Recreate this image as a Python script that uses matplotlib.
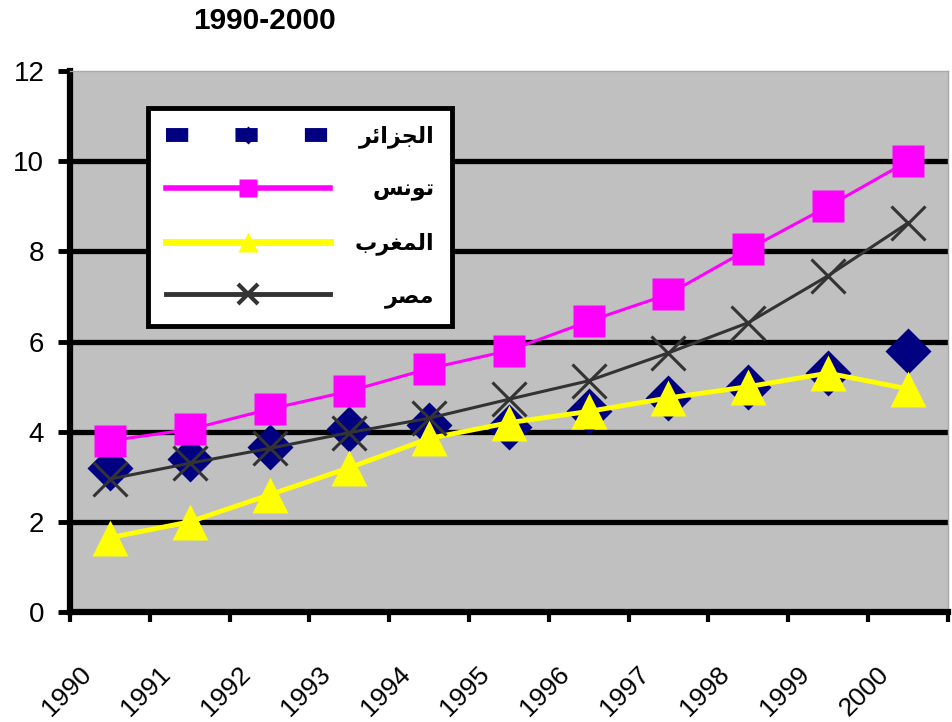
import numpy as np
import matplotlib.pyplot as plt
from matplotlib.lines import Line2D

years = ["1990", "1991", "1992", "1993", "1994", "1995", "1996", "1997", "1998", "1999", "2000"]
algeria = [3.2, 3.4, 3.65, 4.05, 4.15, 4.1, 4.45, 4.75, 5.0, 5.3, 5.8]
tunisia = [3.8, 4.05, 4.5, 4.9, 5.4, 5.8, 6.45, 7.05, 8.05, 9.0, 10.0]
morocco = [1.65, 2.0, 2.6, 3.2, 3.85, 4.2, 4.45, 4.75, 5.0, 5.3, 4.95]
egypt = [2.95, 3.3, 3.63, 3.98, 4.3, 4.72, 5.13, 5.75, 6.42, 7.46, 8.63]
names = ["الجزائر", "تونس", "المغرب", "مصر"]
title = "1990-2000"

# matplotlib has no arabic shaping: pick presentation forms by hand, then reverse
# letter: (isolated, final, initial, medial); two forms = joins only to the right
FORMS = {
    "ا": (0xFE8D, 0xFE8E), "ر": (0xFEAD, 0xFEAE), "ز": (0xFEAF, 0xFEB0), "و": (0xFEED, 0xFEEE),
    "ل": (0xFEDD, 0xFEDE, 0xFEDF, 0xFEE0), "ج": (0xFE9D, 0xFE9E, 0xFE9F, 0xFEA0),
    "ئ": (0xFE89, 0xFE8A, 0xFE8B, 0xFE8C), "ت": (0xFE95, 0xFE96, 0xFE97, 0xFE98),
    "ن": (0xFEE5, 0xFEE6, 0xFEE7, 0xFEE8), "س": (0xFEB1, 0xFEB2, 0xFEB3, 0xFEB4),
    "م": (0xFEE1, 0xFEE2, 0xFEE3, 0xFEE4), "غ": (0xFECD, 0xFECE, 0xFECF, 0xFED0),
    "ب": (0xFE8F, 0xFE90, 0xFE91, 0xFE92), "ص": (0xFEB9, 0xFEBA, 0xFEBB, 0xFEBC),
}

def shape_ar(word):
    out = []
    for i, c in enumerate(word):
        f = FORMS[c]
        prev_joins = i > 0 and len(FORMS[word[i - 1]]) == 4
        next_joins = len(f) == 4 and i < len(word) - 1
        if prev_joins and next_joins:
            cp = f[3]
        elif prev_joins:
            cp = f[1]
        elif next_joins:
            cp = f[2]
        else:
            cp = f[0]
        out.append(chr(cp))
    return "".join(out[::-1])

navy = "#000080"
pink = "#FF00FF"
yellow = "#FFFF00"
dark = "#333333"

fig = plt.figure(figsize=(9.53, 7.22), dpi=100)
ax = fig.add_axes([0.0735, 0.1524, 0.921, 0.749])
ax.set_facecolor("#C0C0C0")

x = np.arange(len(years))
ax.plot(x, algeria, ls="none", marker="D", ms=23, color=navy, mec="none", zorder=3)
ax.plot(x, tunisia, color=pink, lw=2.2, marker="s", ms=23, mec="none", zorder=4)
ax.plot(x, morocco, color=yellow, lw=3.5, marker="^", ms=26, mec="none", zorder=5)
ax.plot(x, egypt, color=dark, lw=2.2, marker="x", ms=24, mew=2.2, zorder=6)

ax.set_xlim(-0.5, len(years) - 0.5)
ax.set_ylim(0, 12)
ax.set_yticks(np.arange(0, 13, 2))
ax.set_yticklabels([str(v) for v in range(0, 13, 2)], fontsize=20, family="Liberation Sans")
ax.tick_params(axis="y", direction="out", length=8.5, width=3.5, pad=10, color="black")

# year labels sit between the category ticks, like the original
ax.set_xticks(x - 0.18)
ax.set_xticklabels(years, rotation=45, ha="right", va="top", fontsize=19,
                   family=["Liberation Sans Narrow", "Liberation Sans"])
ax.set_xticks(np.arange(-0.5, len(years)), minor=True)
ax.tick_params(axis="x", which="major", length=0, pad=36)
ax.tick_params(axis="x", which="minor", direction="out", length=7, width=3, color="black")

ax.yaxis.grid(True, color="black", lw=3.8)
gl = ax.yaxis.get_gridlines()
gl[0].set_visible(False)
gl[-1].set_visible(False)
ax.set_axisbelow(True)

for s in ["left", "bottom"]:
    ax.spines[s].set_linewidth(4.5)
    ax.spines[s].set_color("black")
for s in ["top", "right"]:
    ax.spines[s].set_linewidth(1)
    ax.spines[s].set_color("#A8A8A8")

handles = [
    Line2D([], [], color=navy, lw=10, ls=(0, (1.6, 3.4)), marker="D", ms=9, mec="none"),
    Line2D([], [], color=pink, lw=4, marker="s", ms=13, mec="none"),
    Line2D([], [], color=yellow, lw=5, marker="^", ms=15, mec="none"),
    Line2D([], [], color=dark, lw=3.5, marker="x", ms=14, mew=3),
]
leg = ax.legend(handles, [shape_ar(n) for n in names], loc="upper left",
                bbox_to_anchor=(0.089, 0.932), borderaxespad=0, fancybox=False,
                framealpha=1, facecolor="white", edgecolor="black",
                prop={"family": "DejaVu Sans", "weight": "bold", "size": 16},
                handlelength=7.4, handletextpad=1.1, borderpad=0.8, labelspacing=1.4)
leg.get_frame().set_linewidth(3.5)

# right-align the arabic labels inside the legend column
fig.canvas.draw()
r = fig.canvas.get_renderer()
ws = [t.get_window_extent(r).width for t in leg.get_texts()]
for t, w in zip(leg.get_texts(), ws):
    t.set_x(max(ws) - w)

fig.text(0.278, 0.971, title, ha="center", va="center", fontsize=21.5,
         fontweight="bold", family="Liberation Sans")

fig.savefig("out.png", dpi=100, facecolor="white")
